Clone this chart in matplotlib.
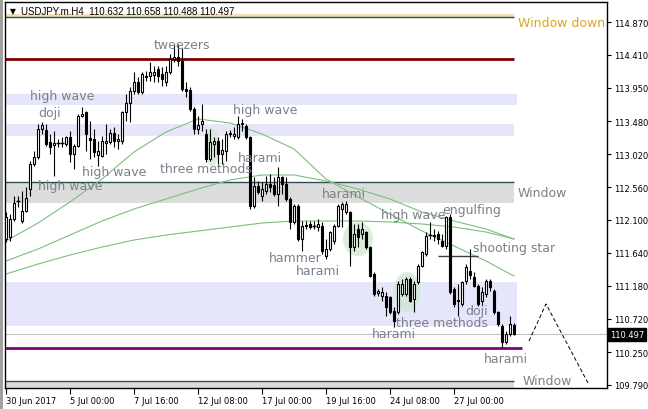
import matplotlib
matplotlib.use('Agg')
import matplotlib.pyplot as plt
from matplotlib.patches import Rectangle, Ellipse

# ---------------- data (USDJPY H4) ----------------
opens = [111.833, 111.861, 112.113, 112.365, 112.085, 112.225, 112.533, 112.883, 112.981, 113.373,
         113.359, 113.191, 113.149, 113.177, 113.177, 113.163, 113.261, 113.023, 113.135, 113.555,
         113.611, 113.247, 113.233, 113.009, 112.995, 113.177, 113.191, 113.317, 113.205, 113.205,
         113.611, 113.736, 113.904, 114.030, 113.890, 114.114, 114.114, 114.128, 114.212, 114.142,
         114.030, 114.170, 114.352, 114.380, 114.324, 113.932, 113.918, 113.652, 113.373, 113.443,
         113.303, 112.953, 113.163, 113.205, 113.023, 113.065, 113.303, 113.275, 113.261, 113.443,
         113.415, 113.261, 112.295, 112.575, 112.435, 112.505, 112.603, 112.589, 112.463, 112.701,
         112.603, 112.393, 112.071, 112.295, 111.833, 112.015, 112.043, 112.015, 112.001, 112.015,
         111.595, 111.693, 111.805, 112.015, 112.253, 112.211, 112.211, 111.721, 111.973, 111.903,
         111.931, 111.721, 111.343, 111.077, 111.035, 111.035, 111.021, 110.826, 110.812, 111.063,
         111.063, 111.273, 110.993, 111.231, 111.455, 111.623, 111.889, 111.889, 111.903, 111.805,
         111.735, 112.141, 111.133, 110.979, 110.923, 111.245, 111.385, 111.301, 111.175, 110.965,
         111.063, 111.245, 111.105, 110.812, 110.615, 110.392, 110.504, 110.632]
highs = [112.211, 112.183, 112.435, 112.435, 112.505, 112.561, 112.925, 113.065, 113.443, 113.471,
         113.443, 113.303, 113.345, 113.233, 113.261, 113.275, 113.345, 113.163, 113.583, 113.680,
         113.625, 113.485, 113.373, 113.205, 113.275, 113.443, 113.373, 113.401, 113.303, 113.625,
         113.862, 113.960, 114.170, 114.100, 114.170, 114.184, 114.310, 114.254, 114.254, 114.240,
         114.254, 114.422, 114.562, 114.562, 114.506, 114.030, 113.960, 113.680, 113.555, 113.722,
         113.373, 113.373, 113.261, 113.261, 113.233, 113.345, 113.359, 113.401, 113.555, 113.513,
         113.443, 113.275, 112.701, 112.645, 112.631, 112.715, 112.743, 112.701, 112.841, 112.715,
         112.701, 112.421, 112.323, 112.323, 112.085, 112.085, 112.085, 112.085, 112.113, 112.071,
         111.833, 111.945, 112.043, 112.323, 112.351, 112.365, 112.225, 112.043, 112.043, 112.071,
         111.945, 111.735, 111.371, 111.133, 111.161, 111.091, 111.035, 110.881, 111.245, 111.273,
         111.301, 111.301, 111.245, 111.483, 111.665, 111.931, 112.071, 111.973, 111.945, 111.903,
         112.155, 112.183, 111.161, 111.203, 111.245, 111.483, 111.693, 111.371, 111.203, 111.161,
         111.273, 111.273, 111.133, 110.826, 110.643, 110.546, 110.756, 110.658]
lows = [111.791, 111.805, 112.085, 112.281, 112.057, 112.211, 112.435, 112.855, 112.953, 113.303,
        113.135, 113.023, 112.715, 113.121, 113.121, 113.135, 112.911, 112.813, 113.121, 113.541,
        113.065, 112.953, 112.981, 112.855, 112.981, 113.023, 113.163, 113.121, 113.093, 113.163,
        113.485, 113.471, 113.862, 113.862, 113.862, 114.044, 114.044, 114.030, 114.030, 113.974,
        113.974, 114.142, 114.310, 114.254, 113.904, 113.820, 113.625, 113.303, 113.303, 113.345,
        112.911, 112.925, 112.981, 112.841, 112.883, 112.925, 113.261, 113.233, 113.233, 113.345,
        113.233, 112.253, 112.267, 112.463, 112.365, 112.463, 112.491, 112.435, 112.295, 112.463,
        112.365, 111.973, 112.043, 111.805, 111.665, 111.973, 111.973, 111.973, 111.945, 111.623,
        111.553, 111.665, 111.763, 112.001, 112.001, 112.183, 111.455, 111.665, 111.721, 111.833,
        111.693, 111.301, 111.035, 111.035, 110.965, 110.756, 110.784, 110.601, 110.784, 111.035,
        111.035, 110.951, 110.812, 111.203, 111.441, 111.595, 111.833, 111.805, 111.763, 111.721,
        111.693, 111.063, 110.881, 110.756, 110.895, 111.203, 111.273, 111.161, 110.895, 110.895,
        111.021, 111.105, 110.784, 110.615, 110.322, 110.364, 110.476, 110.488]
closes = [112.141, 112.113, 112.337, 112.360, 112.225, 112.407, 112.883, 112.981, 113.373, 113.429,
          113.163, 113.121, 113.177, 113.170, 113.180, 113.261, 113.023, 113.135, 113.555, 113.583,
          113.303, 113.219, 113.051, 113.065, 113.205, 113.205, 113.317, 113.205, 113.233, 113.611,
          113.736, 113.904, 114.030, 113.890, 114.142, 114.100, 114.170, 114.170, 114.114, 114.072,
          114.170, 114.352, 114.380, 114.324, 113.932, 113.904, 113.652, 113.373, 113.429, 113.485,
          112.953, 113.191, 113.205, 113.023, 113.079, 113.303, 113.317, 113.303, 113.443, 113.457,
          113.261, 112.295, 112.575, 112.491, 112.533, 112.603, 112.561, 112.463, 112.701, 112.603,
          112.393, 112.071, 112.295, 111.833, 112.015, 112.029, 112.001, 112.010, 112.043, 111.665,
          111.693, 111.931, 112.015, 112.295, 112.323, 112.323, 111.721, 111.903, 111.861, 111.973,
          111.721, 111.315, 111.063, 111.105, 111.091, 110.881, 110.812, 110.686, 111.203, 111.203,
          111.273, 110.965, 111.203, 111.455, 111.651, 111.875, 111.880, 111.875, 111.833, 111.735,
          112.141, 111.091, 110.923, 110.965, 111.231, 111.441, 111.329, 111.175, 110.923, 111.091,
          111.245, 111.161, 110.812, 110.643, 110.392, 110.504, 110.643, 110.497]

# moving averages, read every 8 bars
ma_bars = [0, 8, 16, 24, 32, 40, 48, 56, 64, 72, 80, 88, 96, 104, 112, 120, 127]
ma_fast = [111.805, 112.057, 112.351, 112.673, 113.051, 113.331, 113.513, 113.457, 113.303, 113.093,
           112.673, 112.421, 112.183, 111.945, 111.735, 111.525, 111.315]
ma_mid = [111.525, 111.693, 111.889, 112.085, 112.253, 112.393, 112.533, 112.659, 112.729, 112.729,
          112.645, 112.533, 112.393, 112.211, 112.085, 111.973, 111.833]
ma_slow = [111.343, 111.483, 111.609, 111.721, 111.819, 111.889, 111.945, 112.001, 112.057, 112.085,
           112.085, 112.085, 112.071, 112.043, 112.001, 111.931, 111.833]

ytick_vals = [114.870, 114.410, 113.950, 113.480, 113.020, 112.560, 112.100, 111.640,
              111.180, 110.720, 110.250, 109.790]
xtick_bars = [0, 16, 32, 48, 64, 80, 96, 112]
xtick_labels = ['30 Jun 2017', '5 Jul 00:00', '7 Jul 16:00', '12 Jul 08:00',
                '17 Jul 00:00', '19 Jul 16:00', '24 Jul 08:00', '27 Jul 00:00']

header_symbol = 'USDJPY.m.H4'
header_prices = '110.632 110.658 110.488 110.497'
last_price = 110.497

# pattern annotations: (text, bar, price)
notes = [('tweezers', 44.1, 114.562), ('high wave', 14.0, 113.848), ('doji', 11.0, 113.597),
         ('high wave', 27.0, 112.771), ('high wave', 16.0, 112.575), ('high wave', 64.9, 113.652),
         ('three methods', 50.0, 112.813), ('harami', 63.6, 112.967), ('harami', 84.4, 112.463),
         ('hammer', 72.3, 111.575), ('harami', 78.1, 111.395), ('high wave', 101.9, 112.183),
         ('engulfing', 116.3, 112.253), ('shooting star', 127.1, 111.721),
         ('three methods', 108.9, 110.658), ('doji', 117.6, 110.826), ('harami', 97.1, 110.504),
         ('harami', 125.0, 110.154)]

# ---------------- figure ----------------
W, H = 648, 410
fig = plt.figure(figsize=(W / 100, H / 100), dpi=100, facecolor='white')
fig.patches.append(Rectangle((0, 0), 3 / W, 1, transform=fig.transFigure,
                             facecolor='#a0a0a0', edgecolor='none', zorder=0))
ax = fig.add_axes([5 / W, (H - 389) / H, (607 - 5) / W, (389 - 3) / H])
ax.set_xlim(-0.25, 150.25)
ax.set_ylim(109.748, 115.150)

# zones
ax.add_patch(Rectangle((-1, 114.935), 128, 0.05, facecolor='#f5deb3', edgecolor='none', zorder=0))
ax.hlines(114.935, -1, 127, color='#2f4f4f', lw=1, zorder=1)
ax.hlines(114.352, -1, 127, color='#800000', lw=2, zorder=1)
ax.add_patch(Rectangle((-1, 113.708), 128.75, 0.154, facecolor='#e6e6fa', edgecolor='none', zorder=0))
ax.add_patch(Rectangle((-1, 113.275), 128, 0.168, facecolor='#e6e6fa', edgecolor='none', zorder=0))
ax.add_patch(Rectangle((-1, 112.337), 128, 0.294, facecolor='#dcdcdc', edgecolor='none', zorder=0))
ax.hlines(112.631, -1, 127, color='#2f4f4f', lw=1, zorder=1)
ax.add_patch(Rectangle((-1, 110.615), 128.75, 0.616, facecolor='#e6e6fa', edgecolor='none', zorder=0))
ax.hlines(110.301, -1, 129, color='#800080', lw=2, zorder=1)
ax.add_patch(Rectangle((-1, 109.70), 128, 0.146, facecolor='#dcdcdc', edgecolor='none', zorder=0))
ax.hlines(109.846, -1, 127, color='#2f4f4f', lw=1, zorder=1)

# highlight ellipses
for cx, cy, w, h in [(51.5, 113.121, 3.6, 0.53), (88.0, 111.833, 7.5, 0.48), (100.25, 111.091, 6.75, 0.56)]:
    ax.add_patch(Ellipse((cx, cy), w, h, facecolor='#cfe8cf', edgecolor='none', alpha=0.75, zorder=1))

# bid line
ax.axhline(last_price, color='#c0c0c0', lw=0.8, zorder=1)

# moving averages
for ma in (ma_fast, ma_mid, ma_slow):
    ax.plot(ma_bars, ma, color='#7cbf7c', lw=0.8, zorder=2)

# shooting star level
ax.hlines(111.595, 108, 118, color='#404040', lw=1, zorder=2)

# projection zigzag
ax.plot([130.75, 135, 145.5], [110.406, 110.924, 109.818], color='black', lw=0.7,
        ls=(0, (4, 2.5)), zorder=2)

# candles
bw = 0.5
for i, (o, h, l, c) in enumerate(zip(opens, highs, lows, closes)):
    ax.vlines(i, l, h, color='black', lw=0.8, zorder=3)
    if abs(c - o) < 0.012:
        ax.hlines((o + c) / 2, i - 0.38, i + 0.38, color='black', lw=1, zorder=4)
    else:
        fc = 'white' if c > o else 'black'
        ax.add_patch(Rectangle((i - bw / 2, min(o, c)), bw, abs(c - o), facecolor=fc,
                               edgecolor='black', lw=0.8, zorder=4))

# annotations
for t, x, y in notes:
    ax.text(x, y, t, fontsize=9, color='#7a808a', ha='center', va='center', zorder=5)
ax.text(127.9, 114.87, 'Window down', fontsize=9, color='#daa520', ha='left', va='center', zorder=5)
ax.text(127.9, 112.477, 'Window', fontsize=9, color='#7a808a', ha='left', va='center', zorder=5)
ax.text(129.1, 109.846, 'Window', fontsize=9, color='#7a808a', ha='left', va='center', zorder=5)

# axes styling
for s in ax.spines.values():
    s.set_color('black')
    s.set_linewidth(1)
ax.yaxis.tick_right()
ax.set_yticks(ytick_vals)
ax.set_yticklabels(['%.3f' % v for v in ytick_vals])
ax.set_xticks(xtick_bars)
ax.set_xticklabels(xtick_labels, ha='left')
ax.tick_params(axis='y', direction='out', length=3, width=0.8, labelsize=6, pad=2)
ax.tick_params(axis='x', direction='out', length=4, width=0.8, labelsize=6, pad=2)

ax.annotate('%.3f' % last_price, xy=(1.0, last_price), xycoords=('axes fraction', 'data'),
            xytext=(2, 0), textcoords='offset points', fontsize=6, color='white',
            va='center', ha='left',
            bbox=dict(boxstyle='square,pad=0.25', fc='black', ec='black'), zorder=6)

fig.text(10 / W, 1 - 12 / H, '\u25BC', fontsize=5.5, color='black', ha='left', va='center')
fig.text(21 / W, 1 - 12 / H, header_symbol + '  ' + header_prices, fontsize=7.0,
         family='Liberation Sans', color='black', ha='left', va='center')

fig.savefig('out.png', dpi=100, facecolor='white')
